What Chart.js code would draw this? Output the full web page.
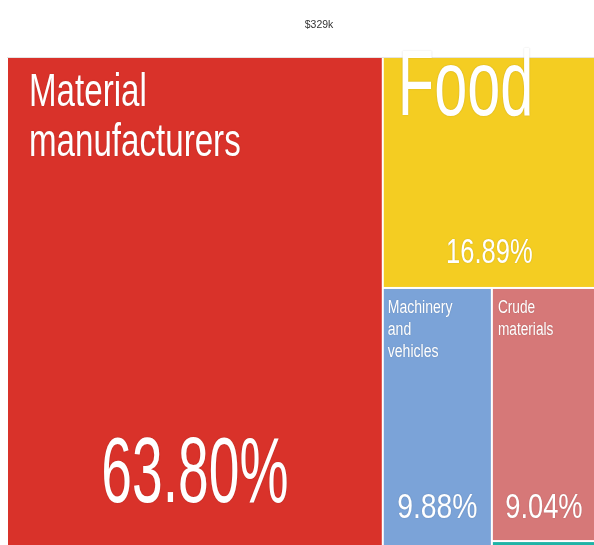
<!DOCTYPE html>
<html lang="en">
<head>
    <meta charset="UTF-8">
    <title>Exports by category</title>
    <script src="https://cdn.jsdelivr.net/npm/chart.js"></script>
    <style>
        html, body { margin: 0; padding: 0; background: #fff; overflow: hidden; }
        #wrap { width: 605px; height: 561px; }
    </style>
</head>
<body>
    <div id="wrap">
        <canvas id="treemap" width="605" height="561"></canvas>
    </div>

    <script>
        // Trade shares, largest first
        const categories = ['Material manufacturers', 'Food', 'Machinery and vehicles', 'Crude materials', 'Other'];
        const shares = [63.80, 16.89, 9.88, 9.04, 0.39];
        const totalLabel = '$329k';

        const cellColors = ['#d9322a', '#f4cd22', '#7ba3d8', '#d67878', '#1fb3a6'];

        // Per-cell text styling: font sizes, horizontal squeeze and offsets
        const labelStyle = [
            { name: 46, nameSq: 0.72, padX: 21, base: 48, lineH: 50, pct: 92, pctSq: 0.6, pctBottom: 49 },
            { name: 93, nameSq: 0.64, padX: 14, base: 57, lineH: 93, pct: 35, pctSq: 0.73, pctBottom: 24 },
            { name: 18, nameSq: 0.78, padX: 4, base: 24, lineH: 22, pct: 35, pctSq: 0.81, pctBottom: 33 },
            { name: 18, nameSq: 0.76, padX: 5, base: 24, lineH: 22, pct: 35, pctSq: 0.78, pctBottom: 22 },
            { name: 0, nameSq: 1, padX: 0, base: 0, lineH: 0, pct: 6, pctSq: 1, pctBottom: 2 }
        ];

        // Slice-and-dice layout in data units (0..100 on both axes),
        // alternating between vertical and horizontal cuts
        function layoutCells(values) {
            const cells = [];
            let x0 = 0, y0 = 0, x1 = 100, y1 = 100;
            let remaining = values.reduce((a, b) => a + b, 0);
            values.forEach((v, i) => {
                const f = v / remaining;
                if (i % 2 === 0) {
                    const xm = x0 + (x1 - x0) * f;
                    cells.push({ x0: x0, y0: y0, x1: xm, y1: y1 });
                    x0 = xm;
                } else {
                    const ym = y0 + (y1 - y0) * f;
                    cells.push({ x0: x0, y0: y0, x1: x1, y1: ym });
                    y0 = ym;
                }
                remaining -= v;
            });
            return cells;
        }

        const cells = layoutCells(shares);

        function drawText(ctx, text, x, y, size, squeeze, align) {
            ctx.save();
            ctx.translate(x, y);
            ctx.scale(squeeze, 1);
            ctx.font = size + 'px "Liberation Sans", Arial, sans-serif';
            ctx.textAlign = align;
            ctx.textBaseline = 'alphabetic';
            ctx.fillText(text, 0, 0);
            ctx.restore();
        }

        const treemapPlugin = {
            id: 'treemapCells',
            afterDatasetsDraw(chart) {
                const ctx = chart.ctx;
                const xs = chart.scales.x;
                const ys = chart.scales.y;
                const area = chart.chartArea;

                // thin rule along the top edge
                ctx.fillStyle = '#e4e4e4';
                ctx.fillRect(area.left, area.top, area.right - area.left, 1);

                cells.forEach((c, i) => {
                    const left = xs.getPixelForValue(c.x0) + 1;
                    const right = xs.getPixelForValue(c.x1) - 1;
                    const top = ys.getPixelForValue(c.y0) + 1;
                    const bottom = ys.getPixelForValue(c.y1) - 1;
                    ctx.fillStyle = cellColors[i];
                    ctx.fillRect(left, top, right - left, bottom - top);
                });

                cells.forEach((c, i) => {
                    const st = labelStyle[i];
                    const left = xs.getPixelForValue(c.x0) + 1;
                    const right = xs.getPixelForValue(c.x1) - 1;
                    const top = ys.getPixelForValue(c.y0) + 1;
                    const bottom = ys.getPixelForValue(c.y1) - 1;
                    ctx.fillStyle = '#ffffff';
                    ctx.shadowColor = 'rgba(0,0,0,0.18)';
                    ctx.shadowBlur = 1.5;
                    if (st.name > 0) {
                        categories[i].split(' ').forEach((word, k) => {
                            drawText(ctx, word, left + st.padX, top + st.base + k * st.lineH, st.name, st.nameSq, 'left');
                        });
                    }
                    drawText(ctx, shares[i].toFixed(2) + '%', (left + right) / 2, bottom - st.pctBottom, st.pct, st.pctSq, 'center');
                    ctx.shadowColor = 'transparent';
                    ctx.shadowBlur = 0;
                });

                // total value above the map
                ctx.fillStyle = '#333333';
                drawText(ctx, totalLabel, 319, 28, 11, 0.95, 'center');
            }
        };

        new Chart(document.getElementById('treemap'), {
            type: 'scatter',
            data: { datasets: [{ data: [] }] },
            options: {
                responsive: false,
                animation: false,
                layout: { padding: { left: 7, top: 57, right: 9, bottom: 9 } },
                plugins: {
                    legend: { display: false },
                    tooltip: { enabled: false }
                },
                scales: {
                    x: { type: 'linear', min: 0, max: 100, display: false },
                    y: { type: 'linear', min: 0, max: 100, reverse: true, display: false }
                }
            },
            plugins: [treemapPlugin]
        });
    </script>
</body>
</html>
